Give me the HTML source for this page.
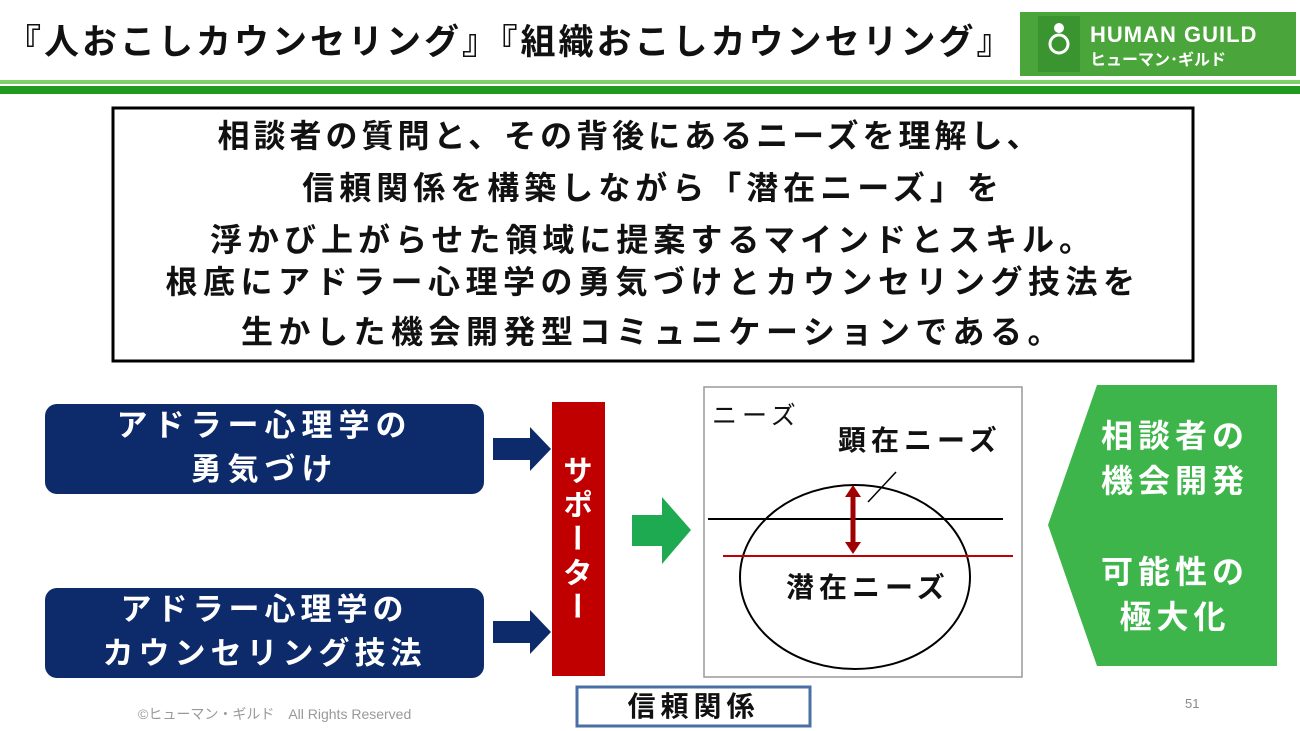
<!DOCTYPE html>
<html><head><meta charset="utf-8">
<style>
body{margin:0;width:1300px;height:731px;background:#fff;position:relative;overflow:hidden;font-family:"Liberation Sans","Noto Sans CJK JP",sans-serif;}
.t{position:absolute;white-space:nowrap;font-weight:bold;}
.c{text-align:center;}
</style></head><body>
<svg width="1300" height="731" style="position:absolute;left:0;top:0">
<rect x="0" y="80" width="1300" height="4" fill="#7dcf6a"/>
<rect x="0" y="86" width="1300" height="8" fill="#1f9a1f"/>
<rect x="1020" y="12" width="276" height="64" fill="#4aa53a"/>
<rect x="1038" y="16" width="42" height="56" fill="#3a9430"/>
<circle cx="1059" cy="28" r="5" fill="#fff"/>
<circle cx="1059" cy="44" r="9" fill="none" stroke="#fff" stroke-width="3"/>
<rect x="113" y="108" width="1080" height="253" fill="none" stroke="#000" stroke-width="3"/>
<rect x="45" y="404" width="439" height="90" rx="12" fill="#0d2a6b"/>
<rect x="45" y="588" width="439" height="90" rx="12" fill="#0d2a6b"/>
<polygon points="493,438 530,438 530,427 551,449 530,471 530,460 493,460" fill="#0d2a6b"/>
<polygon points="493,621 530,621 530,610 551,632 530,654 530,643 493,643" fill="#0d2a6b"/>
<rect x="552" y="402" width="53" height="274" fill="#c00000"/>
<polygon points="632,515 662,515 662,497 691,530 662,564 662,546 632,546" fill="#1eaa50"/>
<rect x="704" y="387" width="318" height="290" fill="#fff" stroke="#999" stroke-width="1.5"/>
<ellipse cx="855" cy="577" rx="115" ry="92" fill="none" stroke="#000" stroke-width="2"/>
<line x1="708" y1="519" x2="1003" y2="519" stroke="#000" stroke-width="2"/>
<line x1="723" y1="556" x2="1013" y2="556" stroke="#c00000" stroke-width="2"/>
<line x1="853" y1="495" x2="853" y2="544" stroke="#a00000" stroke-width="5"/>
<polygon points="845,497 861,497 853,485" fill="#a00000"/>
<polygon points="845,542 861,542 853,554" fill="#a00000"/>
<line x1="868" y1="502" x2="896" y2="472" stroke="#000" stroke-width="1.5"/>
<polygon points="1097,385 1277,385 1277,666 1097,666 1048,525" fill="#3db54a"/>
<rect x="577" y="687" width="233" height="39" fill="#fff" stroke="#4a6fa5" stroke-width="3"/>
</svg>
<div class="t" style="left:6px;top:14px;font-size:35px;letter-spacing:3px;color:#111">『人おこしカウンセリング』『組織おこしカウンセリング』</div>
<div class="t" style="left:1090px;top:22px;font-size:22px;color:#fff;letter-spacing:1px">HUMAN GUILD</div>
<div class="t" style="left:1090px;top:46px;font-size:16px;color:#fff">ヒューマン･ギルド</div>
<div class="t c" style="left:90px;width:1080px;top:110px;font-size:32px;line-height:52px;letter-spacing:4px;color:#111">相談者の質問と、その背後にあるニーズを理解し、</div>
<div class="t c" style="left:113px;width:1080px;top:162px;font-size:32px;line-height:52px;letter-spacing:5px;color:#111">信頼関係を構築しながら「潜在ニーズ」を<br>浮かび上がらせた領域に提案するマインドとスキル。</div>
<div class="t c" style="left:113px;width:1080px;top:257px;font-size:32px;line-height:50px;letter-spacing:5.5px;color:#111">根底にアドラー心理学の勇気づけとカウンセリング技法を<br>生かした機会開発型コミュニケーションである。</div>
<div class="t c" style="left:45px;width:439px;top:404px;font-size:31px;line-height:44px;letter-spacing:6px;color:#fff">アドラー心理学の<br>勇気づけ</div>
<div class="t c" style="left:45px;width:439px;top:588px;font-size:31px;line-height:44px;letter-spacing:5px;color:#fff">アドラー心理学の<br>カウンセリング技法</div>
<div class="t" style="top:455px;font-size:30px;letter-spacing:4px;color:#fff;writing-mode:vertical-rl;left:562px;width:34px">サポーター</div>
<div class="t" style="left:712px;top:396px;font-size:25px;font-weight:normal;letter-spacing:5px;color:#111">ニーズ</div>
<div class="t" style="left:838px;top:419px;font-size:28px;letter-spacing:5px;color:#111">顕在ニーズ</div>
<div class="t" style="left:786px;top:566px;font-size:28px;letter-spacing:5px;color:#111">潜在ニーズ</div>
<div class="t c" style="left:1080px;width:190px;top:414px;font-size:32px;line-height:45px;letter-spacing:5px;color:#fff">相談者の<br>機会開発</div>
<div class="t c" style="left:1080px;width:190px;top:550px;font-size:32px;line-height:45px;letter-spacing:5px;color:#fff">可能性の<br>極大化</div>
<div class="t c" style="left:577px;width:233px;top:685px;font-size:28px;letter-spacing:5px;color:#111">信頼関係</div>
<div class="t" style="left:138px;top:704px;font-size:14px;font-weight:normal;color:#999">©ヒューマン・ギルド　All  Rights Reserved</div>
<div class="t" style="left:1185px;top:696px;font-size:13px;font-weight:normal;color:#888">51</div>
</body></html>
